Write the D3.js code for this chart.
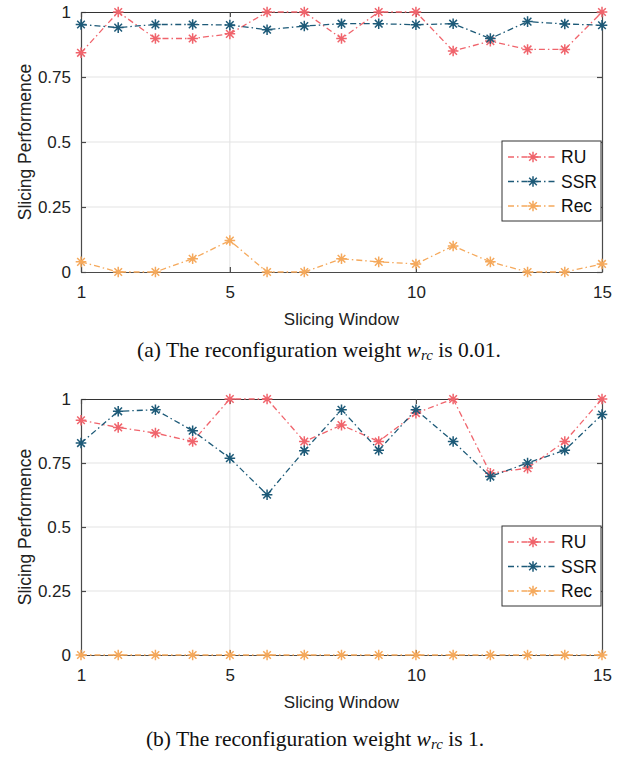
<!DOCTYPE html>
<html><head><meta charset="utf-8">
<script src="https://cdn.jsdelivr.net/npm/d3@7"></script>
<style>body{margin:0;background:#fff}svg{display:block}</style>
</head><body>
<svg id="c" width="625" height="758"></svg>
<script>
const windows = [1,2,3,4,5,6,7,8,9,10,11,12,13,14,15];
const xTicks = [1,5,10,15];
const yTicks = [0,0.25,0.5,0.75,1];
const seriesNames = ["RU","SSR","Rec"];
const seriesColors = ["#f0646c","#1d5a78","#f5a95c"];
// (a) w_rc = 0.01
const ruA  = [0.843,1.0,0.898,0.898,0.916,1.0,1.0,0.898,1.0,1.0,0.85,0.888,0.856,0.856,1.0];
const ssrA = [0.952,0.94,0.952,0.952,0.95,0.932,0.946,0.955,0.955,0.951,0.955,0.898,0.963,0.954,0.949];
const recA = [0.039,0,0,0.051,0.121,0,0,0.051,0.039,0.031,0.10,0.039,0,0,0.031];
// (b) w_rc = 1
const ruB  = [0.917,0.889,0.867,0.834,1.0,1.0,0.834,0.898,0.834,0.945,1.0,0.71,0.73,0.834,1.0];
const ssrB = [0.828,0.952,0.958,0.876,0.769,0.626,0.798,0.958,0.80,0.958,0.834,0.697,0.75,0.80,0.939];
const recB = [0,0,0,0,0,0,0,0,0,0,0,0,0,0,0];

const svg = d3.select("#c");
const FONT = "'Liberation Sans', Arial, sans-serif";

function star(g, x, y, color){
  const r = 5.3, d = r*0.72;
  g.append("path")
   .attr("d",`M${x-r},${y}L${x+r},${y}M${x},${y-r}L${x},${y+r}M${x-d},${y-d}L${x+d},${y+d}M${x-d},${y+d}L${x+d},${y-d}`)
   .attr("stroke",color).attr("stroke-width",1.5).attr("fill","none");
}

function panel(top, bottom, data, legendTop){
  const left = 81, right = 602;
  const x = d3.scaleLinear().domain([1,15]).range([left,right]);
  const y = d3.scaleLinear().domain([0,1]).range([bottom,top]);
  const g = svg.append("g");
  g.selectAll(".gx").data(xTicks.slice(1,-1)).enter().append("line")
   .attr("x1",d=>x(d)).attr("x2",d=>x(d)).attr("y1",top).attr("y2",bottom)
   .attr("stroke","#e3e3e3").attr("stroke-width",1);
  g.selectAll(".gy").data(yTicks.slice(1,-1)).enter().append("line")
   .attr("x1",left).attr("x2",right).attr("y1",d=>y(d)).attr("y2",d=>y(d))
   .attr("stroke","#e3e3e3").attr("stroke-width",1);
  const xa = g.append("g").attr("transform",`translate(0,${bottom})`)
   .call(d3.axisBottom(x).tickValues(xTicks).tickFormat(d3.format("d")).tickSizeInner(-5).tickSizeOuter(0).tickPadding(14));
  const ya = g.append("g").attr("transform",`translate(${left},0)`)
   .call(d3.axisLeft(y).tickValues(yTicks).tickFormat(d=>String(d)).tickSizeInner(-5).tickSizeOuter(0).tickPadding(10));
  const xt = g.append("g").attr("transform",`translate(0,${top})`)
   .call(d3.axisTop(x).tickValues(xTicks).tickFormat("").tickSizeInner(-5).tickSizeOuter(0));
  const yr = g.append("g").attr("transform",`translate(${right},0)`)
   .call(d3.axisRight(y).tickValues(yTicks).tickFormat("").tickSizeInner(-5).tickSizeOuter(0));
  [xa,ya,xt,yr].forEach(a=>{
    a.selectAll("path,line").attr("stroke","#4a4a4a").attr("stroke-width",1.2);
    a.selectAll("text").attr("fill","#222").style("font-family",FONT).style("font-size","17px");
  });
  xt.select("path").attr("stroke","#333");
  g.append("text").attr("x",(left+right)/2).attr("y",bottom+53).attr("text-anchor","middle")
   .style("font-family",FONT).style("font-size","17px").attr("fill","#222").text("Slicing Window");
  g.append("text").attr("transform",`translate(31,${(top+bottom)/2}) rotate(-90)`).attr("text-anchor","middle")
   .style("font-family",FONT).style("font-size","17.5px").attr("fill","#222").text("Slicing Performence");
  const line = d3.line().x((d,i)=>x(windows[i])).y(d=>y(d));
  [0,1,2].forEach(k=>{
    g.append("path").datum(data[k]).attr("d",line).attr("fill","none")
     .attr("stroke",seriesColors[k]).attr("stroke-width",1.3).attr("stroke-dasharray","6,3,1.5,3");
    data[k].forEach((v,i)=>star(g,x(windows[i]),y(v),seriesColors[k]));
  });
  const lx = 502, lw = 99, lh = 80;
  const lg = g.append("g");
  lg.append("rect").attr("x",lx).attr("y",legendTop).attr("width",lw).attr("height",lh)
   .attr("fill","#fff").attr("stroke","#333").attr("stroke-width",1);
  seriesNames.forEach((n,k)=>{
    const yy = legendTop + 16 + k*24.5;
    lg.append("line").attr("x1",lx+6).attr("x2",lx+53).attr("y1",yy).attr("y2",yy)
      .attr("stroke",seriesColors[k]).attr("stroke-width",1.3).attr("stroke-dasharray","6,3,1.5,3");
    star(lg,lx+31,yy,seriesColors[k]);
    lg.append("text").attr("x",lx+59).attr("y",yy+6).style("font-family",FONT).style("font-size","17.5px")
      .attr("fill","#111").text(n);
  });
}

panel(12,272,[ruA,ssrA,recA],141);
panel(399,655,[ruB,ssrB,recB],526);

function caption(cx, by, pre, post){
  const t = svg.append("text").attr("x",cx).attr("y",by).attr("text-anchor","middle")
   .style("font-family","'Liberation Serif','Times New Roman',serif").style("font-size","21.5px").attr("fill","#111");
  t.append("tspan").text(pre);
  t.append("tspan").style("font-style","italic").text("w");
  t.append("tspan").style("font-style","italic").style("font-size","15px").attr("dy",3).text("rc");
  t.append("tspan").attr("dy",-3).text(post);
}
caption(319,357,"(a) The reconfiguration weight "," is 0.01.");
caption(315,746,"(b) The reconfiguration weight "," is 1.");
</script>
</body></html>
